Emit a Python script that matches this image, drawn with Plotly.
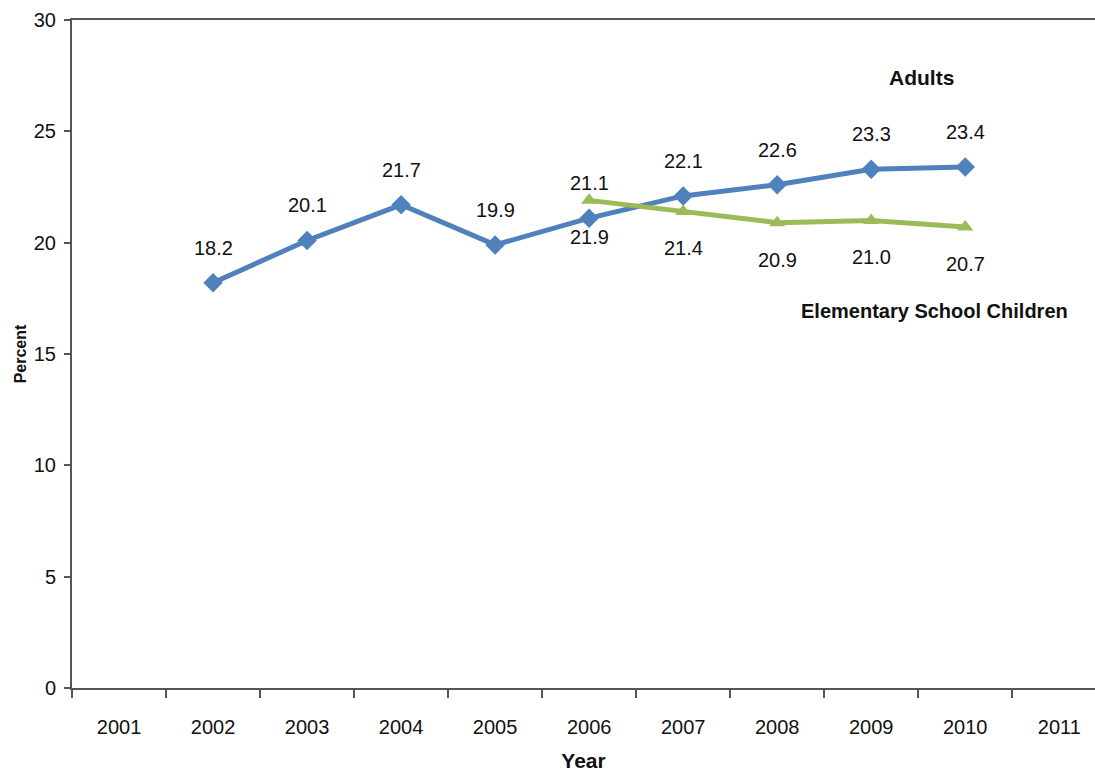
import plotly.graph_objects as go

years = ["2001", "2002", "2003", "2004", "2005", "2006", "2007", "2008", "2009", "2010", "2011"]
adult_years = ["2002", "2003", "2004", "2005", "2006", "2007", "2008", "2009", "2010"]
adult_values = [18.2, 20.1, 21.7, 19.9, 21.1, 22.1, 22.6, 23.3, 23.4]
child_years = ["2006", "2007", "2008", "2009", "2010"]
child_values = [21.9, 21.4, 20.9, 21.0, 20.7]

BLUE = "#4F81BD"
GREEN = "#9BBB59"
NUM_FONT = "Liberation Sans, Arial, sans-serif"

fig = go.Figure()
fig.add_trace(go.Scatter(
    x=adult_years, y=adult_values, mode="lines+markers", name="Adults",
    line=dict(color=BLUE, width=5),
    marker=dict(symbol="diamond", size=15, color=BLUE),
))
fig.add_trace(go.Scatter(
    x=child_years, y=child_values, mode="lines+markers", name="Elementary School Children",
    line=dict(color=GREEN, width=5),
    marker=dict(symbol="triangle-up", size=14, color=GREEN),
))

annotations = []
for xv, yv in zip(adult_years, adult_values):
    annotations.append(dict(x=years.index(xv), y=yv, xref="x", yref="y", text=f"{yv:.1f}",
                            showarrow=False, yshift=35,
                            font=dict(family=NUM_FONT, size=20, color="#111")))
for xv, yv in zip(child_years, child_values):
    annotations.append(dict(x=years.index(xv), y=yv, xref="x", yref="y", text=f"{yv:.1f}",
                            showarrow=False, yshift=-37,
                            font=dict(family=NUM_FONT, size=20, color="#111")))
annotations.append(dict(x=8.54, y=27.44, xref="x", yref="y", text="Adults", showarrow=False,
                        font=dict(family=NUM_FONT, size=21, color="#111", weight="bold")))
annotations.append(dict(x=8.67, y=16.93, xref="x", yref="y", text="Elementary School Children",
                        showarrow=False,
                        font=dict(family=NUM_FONT, size=20, color="#111", weight="bold")))

fig.update_layout(
    width=1095, height=772,
    margin=dict(l=72, r=0, t=20, b=84),
    paper_bgcolor="white", plot_bgcolor="white",
    showlegend=False,
    annotations=annotations,
    xaxis=dict(
        type="category", categoryorder="array", categoryarray=years,
        range=[-0.5, 10.38], tickson="boundaries",
        ticks="outside", ticklen=8, tickwidth=2, tickcolor="#555",
        showline=True, linecolor="#555", linewidth=2, mirror=True,
        showgrid=False, zeroline=False,
        tickfont=dict(family=NUM_FONT, size=20, color="#111"),
        ticklabelstandoff=20,
        title=dict(text="Year", standoff=16,
                   font=dict(family=NUM_FONT, size=21, color="#111", weight="bold")),
    ),
    yaxis=dict(
        range=[0, 30], dtick=5, tick0=0,
        ticks="outside", ticklen=6, tickwidth=2, tickcolor="#555",
        showline=True, linecolor="#555", linewidth=2,
        showgrid=False, zeroline=False,
        tickfont=dict(family=NUM_FONT, size=20, color="#111"),
        ticklabelstandoff=4,
        title=dict(text="Percent", standoff=3,
                   font=dict(family=NUM_FONT, size=16, color="#111", weight="bold")),
    ),
)

fig.write_html("out.html")
